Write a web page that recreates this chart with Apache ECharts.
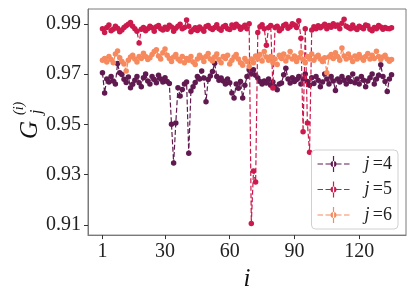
<!DOCTYPE html>
<html><head><meta charset="utf-8">
<script src="https://cdn.jsdelivr.net/npm/echarts@6/dist/echarts.min.js"></script>
<style>html,body{margin:0;padding:0;background:#fff}#c{width:415px;height:297px}</style>
</head><body><div id="c"></div>
<script>
const xTicks = [1, 30, 60, 90, 120];
const yTicks = [0.91, 0.93, 0.95, 0.97, 0.99];
const seriesNames = ['4', '5', '6'];
const colors = ['#611a50', '#cc1a4c', '#f6895d'];

const g4 = [
0.9705,0.9625,0.9680,0.9668,0.9690,0.9672,0.9660,0.9742,0.9705,0.9698,
0.9679,0.9666,0.9688,0.9646,0.9659,0.9675,0.9690,0.9665,0.9650,0.9685,
0.9700,0.9672,0.9660,0.9690,0.9678,0.9665,0.9695,0.9680,0.9668,0.9685,
0.9670,0.9662,0.9500,0.9346,0.9505,0.9646,0.9613,0.9639,0.9660,0.9668,
0.9385,0.9633,0.9650,0.9666,0.9690,0.9680,0.9712,0.9684,0.9590,0.9678,
0.9692,0.9710,0.9743,0.9690,0.9675,0.9684,0.9672,0.9660,0.9680,0.9665,
0.9625,0.9605,0.9660,0.9644,0.9670,0.9605,0.9655,0.9690,0.9717,0.9700,
0.9717,0.9695,0.9684,0.9670,0.9660,0.9672,0.9664,0.9680,0.9655,0.9668,
0.9650,0.9638,0.9660,0.9664,0.9697,0.9723,0.9680,0.9664,0.9685,0.9670,
0.9678,0.9690,0.9660,0.9680,0.9700,0.9670,0.9655,0.9685,0.9662,0.9690,
0.9675,0.9650,0.9668,0.9700,0.9680,0.9660,0.9690,0.9672,0.9635,0.9680,
0.9668,0.9690,0.9675,0.9660,0.9685,0.9670,0.9700,0.9665,0.9680,0.9660,
0.9690,0.9675,0.9650,0.9672,0.9685,0.9700,0.9660,0.9680,0.9695,0.9737,
0.9690,0.9670,0.9631,0.9680,0.9697];

const g5 = [
0.9880,0.9865,0.9885,0.9895,0.9872,0.9878,0.9890,0.9882,0.9868,0.9875,
0.9885,0.9892,0.9898,0.9905,0.9890,0.9880,0.9870,0.9824,0.9878,0.9885,
0.9872,0.9880,0.9890,0.9884,0.9870,0.9888,0.9893,0.9880,0.9875,0.9886,
0.9878,0.9894,0.9887,0.9870,0.9882,0.9890,0.9898,0.9880,0.9885,0.9915,
0.9890,0.9868,0.9876,0.9884,0.9873,0.9887,0.9879,0.9870,0.9889,0.9893,
0.9882,0.9877,0.9885,0.9896,0.9880,0.9874,0.9888,0.9893,0.9880,0.9877,
0.9895,0.9885,0.9898,0.9890,0.9878,0.9886,0.9894,0.9880,0.9900,0.9105,
0.9314,0.9270,0.9865,0.9888,0.9896,0.9880,0.9815,0.9885,0.9893,0.9645,
0.9885,0.9890,0.9872,0.9880,0.9893,0.9898,0.9882,0.9888,0.9900,0.9895,
0.9885,0.9912,0.9843,0.9470,0.9880,0.9505,0.9389,0.9875,0.9888,0.9880,
0.9892,0.9884,0.9890,0.9898,0.9880,0.9893,0.9886,0.9900,0.9890,0.9895,
0.9880,0.9902,0.9918,0.9890,0.9885,0.9880,0.9895,0.9883,0.9877,0.9890,
0.9885,0.9880,0.9895,0.9892,0.9878,0.9872,0.9885,0.9880,0.9893,0.9887,
0.9878,0.9885,0.9881,0.9880,0.9884];

const g6 = [
0.9755,0.9762,0.9748,0.9770,0.9758,0.9745,0.9780,0.9792,0.9765,0.9750,
0.9740,0.9712,0.9755,0.9768,0.9775,0.9760,0.9748,0.9770,0.9762,0.9783,
0.9770,0.9758,0.9765,0.9778,0.9790,0.9797,0.9772,0.9760,0.9785,0.9800,
0.9775,0.9762,0.9750,0.9768,0.9778,0.9760,0.9752,0.9770,0.9745,0.9762,
0.9755,0.9770,0.9748,0.9738,0.9760,0.9775,0.9765,0.9750,0.9770,0.9782,
0.9760,0.9752,0.9768,0.9780,0.9758,0.9745,0.9770,0.9762,0.9775,0.9740,
0.9755,0.9768,0.9778,0.9760,0.9745,0.9735,0.9762,0.9750,0.9730,0.9760,
0.9745,0.9772,0.9760,0.9778,0.9752,0.9790,0.9768,0.9755,0.9770,0.9745,
0.9760,0.9738,0.9775,0.9762,0.9780,0.9752,0.9768,0.9790,0.9760,0.9772,
0.9750,0.9765,0.9785,0.9758,0.9745,0.9770,0.9760,0.9780,0.9755,0.9768,
0.9775,0.9760,0.9750,0.9765,0.9705,0.9768,0.9778,0.9762,0.9785,0.9770,
0.9755,0.9804,0.9772,0.9760,0.9780,0.9765,0.9750,0.9772,0.9760,0.9778,
0.9765,0.9755,0.9770,0.9782,0.9760,0.9775,0.9762,0.9791,0.9770,0.9758,
0.9768,0.9775,0.9760,0.9751,0.9758];

const allData = [g4, g5, g6];
const FONT = '"Liberation Serif", "DejaVu Serif", serif';

const legendIcon = 'path://M0,7.4h5.5v1.2h-5.5z M8,7.4h5v1.2h-5z M19,7.4h5v1.2h-5z M26.5,7.4h5.5v1.2h-5.5z M15.4,0h1.2v16h-1.2z M16,5a3,3 0 1,0 0.001,0z';

const chart = echarts.init(document.getElementById('c'), null, {renderer: 'canvas'});
const series = allData.map((arr, k) => ({
  name: 'j' + seriesNames[k],
  type: 'line',
  data: arr.map((v, i) => [i + 1, v]),
  symbol: 'circle',
  symbolSize: 5.5,
  showSymbol: true,
  color: colors[k],
  itemStyle: {color: colors[k]},
  lineStyle: {color: colors[k], width: 1.2, type: [5, 2.4]},
  emphasis: {disabled: true},
  animation: false,
  z: 2 + k
}));

chart.setOption({
  animation: false,
  grid: {left: 88, right: 9, top: 9, bottom: 60, show: true, borderColor: '#7a7a7a', borderWidth: 1, backgroundColor: 'transparent'},
  xAxis: {
    type: 'value', min: -5.7, max: 141.7,
    name: 'i', nameLocation: 'middle', nameGap: 30,
    nameTextStyle: {fontFamily: FONT, fontStyle: 'italic', fontSize: 25, color: '#111'},
    axisLine: {show: true, onZero: false, lineStyle: {color: '#7a7a7a', width: 1}},
    axisTick: {show: true, length: 4, customValues: xTicks, lineStyle: {color: '#333'}},
    axisLabel: {customValues: xTicks, margin: 7, fontFamily: FONT, fontSize: 20, color: '#222'},
    splitLine: {show: false}
  },
  yAxis: {
    type: 'value', min: 0.9059, max: 0.9959,
    axisLine: {show: true, onZero: false, lineStyle: {color: '#7a7a7a', width: 1}},
    axisTick: {show: true, length: 4, customValues: yTicks, lineStyle: {color: '#333'}},
    axisLabel: {customValues: yTicks, margin: 7, fontFamily: FONT, fontSize: 20, color: '#222',
      formatter: v => v.toFixed(2)},
    splitLine: {show: false}
  },
  legend: {
    orient: 'vertical', right: 17, bottom: 68,
    backgroundColor: 'rgba(255,255,255,0.85)', borderColor: '#d0d0d0', borderWidth: 1, borderRadius: 4,
    padding: [5, 6, 5, 6],
    itemWidth: 32, itemHeight: 16, itemGap: 7.5,
    icon: legendIcon,
    data: series.map(s => s.name),
    formatter: name => '{j|j} {t|=' + name.slice(1) + '}',
    textStyle: {
      padding: [0, 0, 0, 10],
      rich: {
        j: {fontFamily: FONT, fontStyle: 'italic', fontSize: 18, color: '#222'},
        t: {fontFamily: FONT, fontSize: 18, color: '#222'}
      }
    }
  },
  graphic: [{
    type: 'group', x: 30, y: 118, rotation: Math.PI / 2,
    children: [
      {type: 'text', x: -12, y: 0, style: {text: 'G', font: 'italic 25px ' + FONT, fill: '#111', textAlign: 'center', textVerticalAlign: 'middle'}},
      {type: 'text', x: 4, y: 7, style: {text: 'j', font: 'italic 16px ' + FONT, fill: '#111', textAlign: 'left', textVerticalAlign: 'middle'}},
      {type: 'text', x: 3, y: -11, style: {text: '(i)', font: 'italic 14px ' + FONT, fill: '#111', textAlign: 'left', textVerticalAlign: 'middle'}}
    ]
  }],
  series: series
});
</script>
</body></html>
